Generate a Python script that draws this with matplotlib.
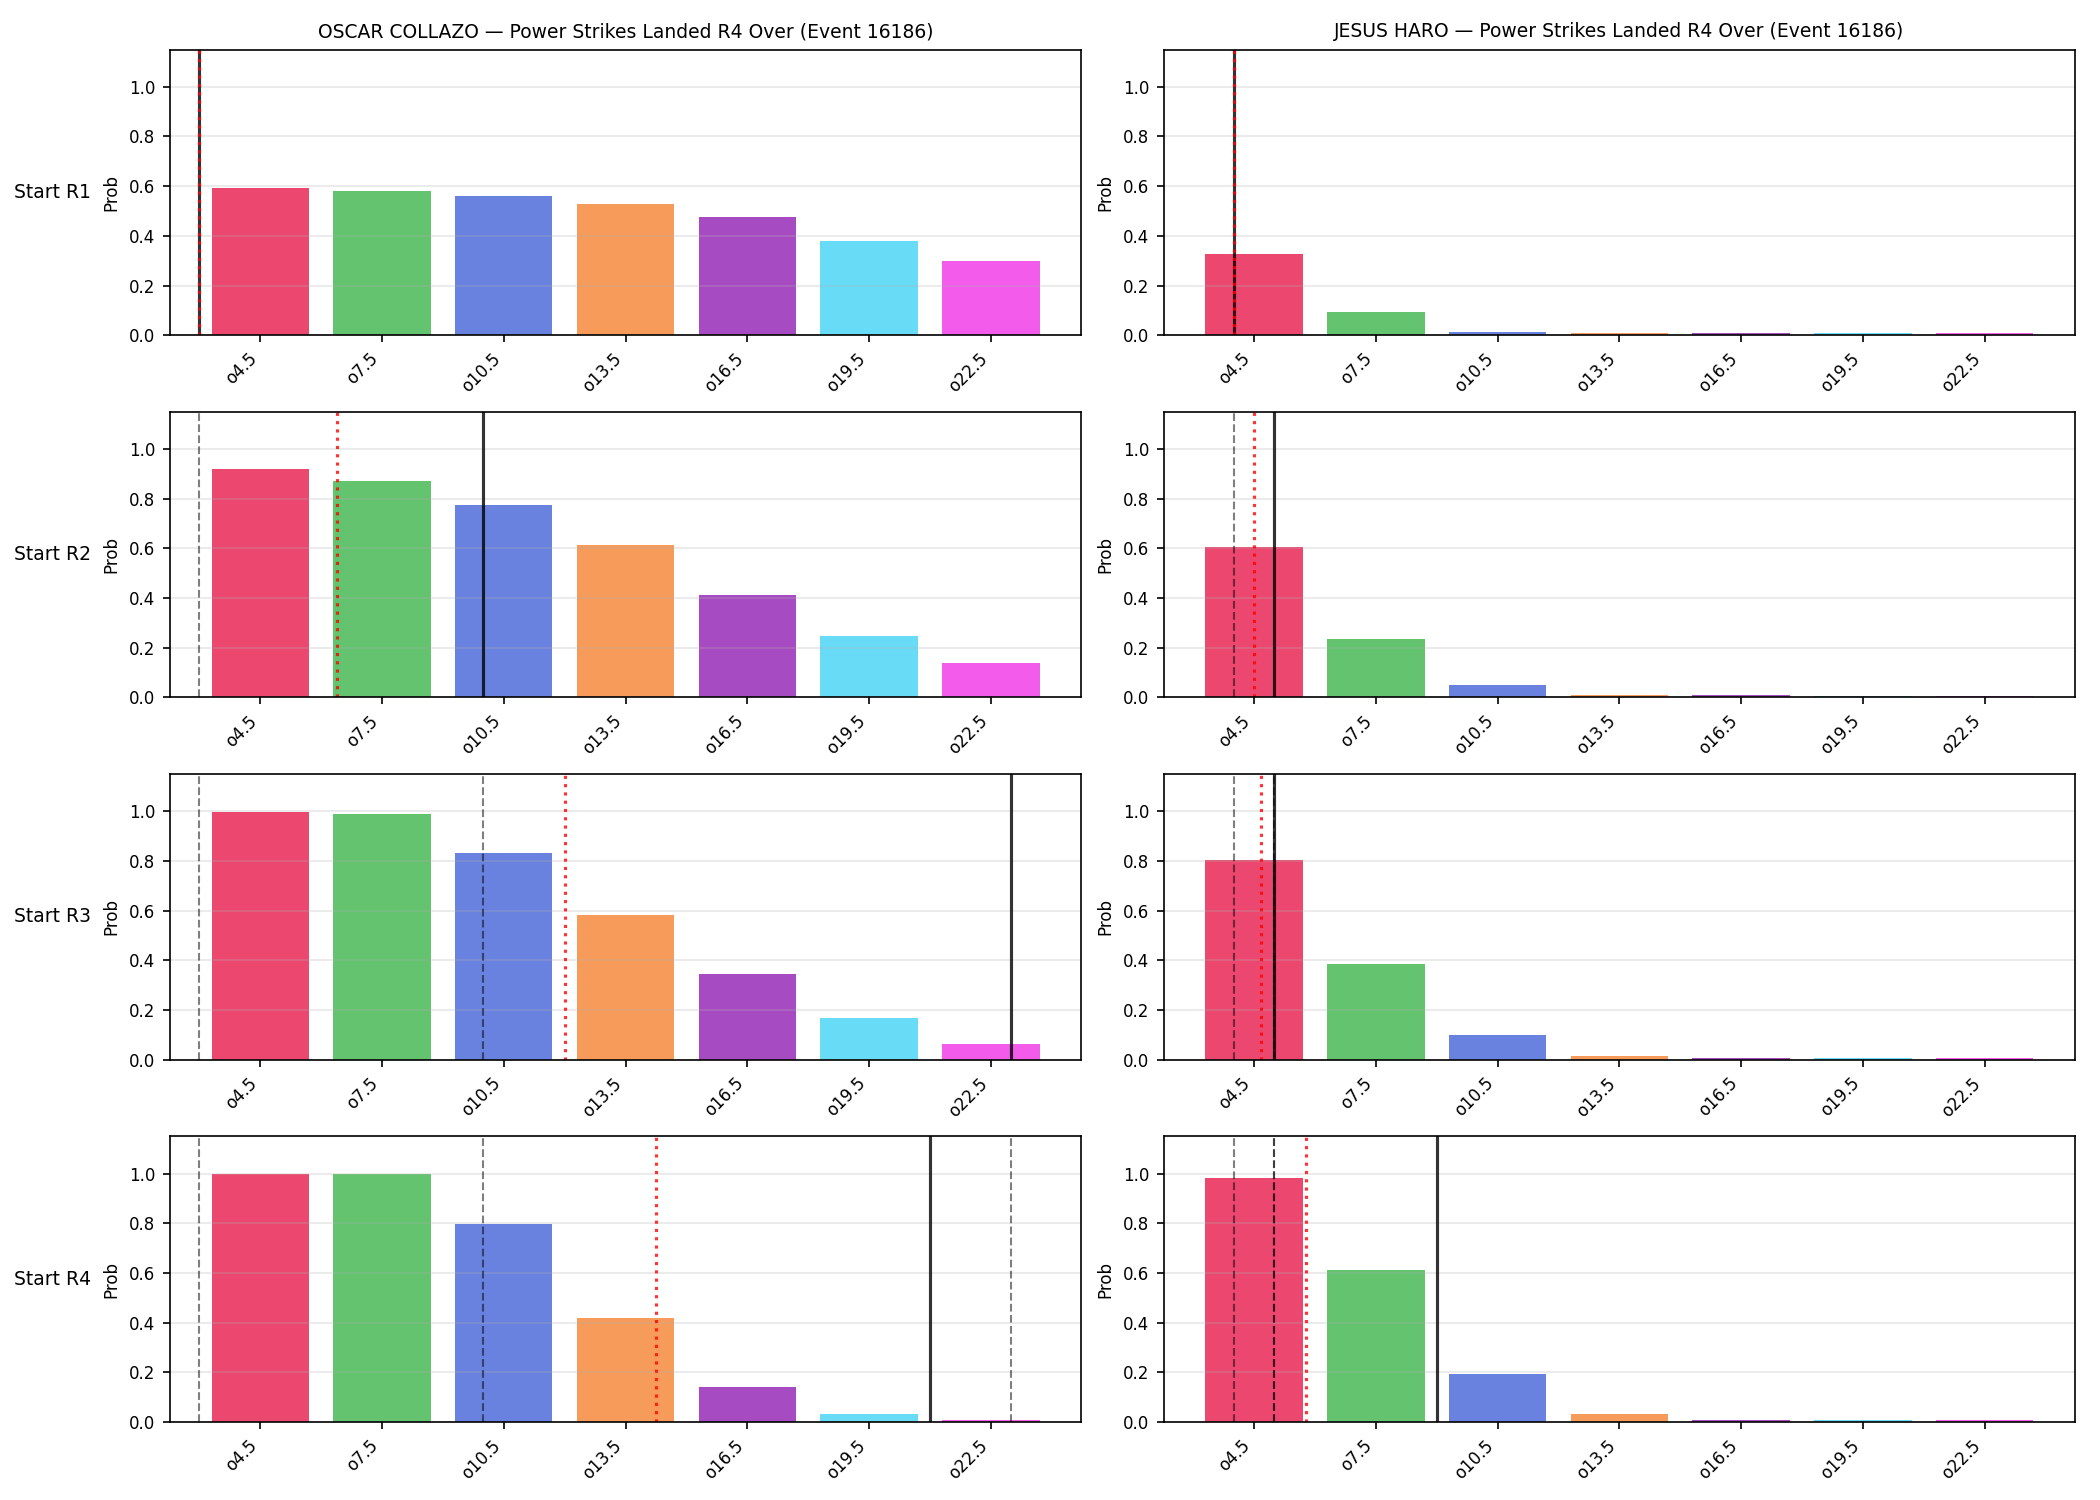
import matplotlib
matplotlib.use("Agg")
import matplotlib.pyplot as plt
import numpy as np

fighters = ["OSCAR COLLAZO", "JESUS HARO"]
market = "Power Strikes Landed R4 Over (Event 16186)"
rounds = ["Start R1", "Start R2", "Start R3", "Start R4"]
thresholds = [4.5, 7.5, 10.5, 13.5, 16.5, 19.5, 22.5]
labels = ["o4.5", "o7.5", "o10.5", "o13.5", "o16.5", "o19.5", "o22.5"]
colors = ["#e6194b", "#3cb44b", "#4363d8", "#f58231", "#911eb4", "#42d4f4", "#f032e6"]

# probability of going over each line, one row per starting round
collazo_probs = [
    [0.593, 0.581, 0.562, 0.530, 0.474, 0.381, 0.297],
    [0.920, 0.872, 0.775, 0.613, 0.414, 0.248, 0.139],
    [0.997, 0.989, 0.832, 0.583, 0.344, 0.168, 0.063],
    [0.997, 0.997, 0.795, 0.419, 0.140, 0.031, 0.008],
]
haro_probs = [
    [0.325, 0.093, 0.012, 0.008, 0.008, 0.007, 0.007],
    [0.604, 0.237, 0.052, 0.008, 0.008, 0.007, 0.007],
    [0.804, 0.385, 0.099, 0.016, 0.008, 0.007, 0.007],
    [0.984, 0.612, 0.192, 0.031, 0.009, 0.007, 0.008],
]

# strike counts: actual so far (black) and projection (red)
collazo_actual = [3, 10, 23, 21]
collazo_proj = [3, 6.4, 12, 14.25]
haro_actual = [4, 5, 5, 9]
haro_proj = [4, 4.5, 4.68, 5.77]

all_probs = [collazo_probs, haro_probs]
all_actual = [collazo_actual, haro_actual]
all_proj = [collazo_proj, haro_proj]


def to_x(s):
    # map a strike count onto the bar index axis
    return (s - thresholds[0]) / (thresholds[1] - thresholds[0])


fig, axes = plt.subplots(4, 2, figsize=(14, 10), dpi=150)
x = np.arange(len(labels))

for col in range(2):
    for row in range(4):
        ax = axes[row, col]
        ax.bar(x, all_probs[col][row], color=colors, alpha=0.8)
        for prev in all_actual[col][:row]:
            ax.axvline(to_x(prev), color="black", linestyle="--", linewidth=1, alpha=0.5)
        ax.axvline(to_x(all_actual[col][row]), color="black", linewidth=1.5, alpha=0.8)
        ax.axvline(to_x(all_proj[col][row]), color="red", linestyle=":", linewidth=1.5, alpha=0.8)
        ax.set_xticks(x)
        ax.set_xticklabels(labels, rotation=45, ha="right", fontsize=8)
        ax.tick_params(axis="y", labelsize=8)
        ax.set_ylim(0, 1.15)
        ax.set_ylabel("Prob", fontsize=8)
        ax.grid(axis="y", alpha=0.3)
        if row == 0:
            ax.set_title(fighters[col] + " \u2014 " + market, fontsize=9)
        if col == 0:
            ax.text(-0.087, 0.5, rounds[row], transform=ax.transAxes,
                    ha="right", va="center", fontsize=9)

plt.subplots_adjust(left=0.081, right=0.988, top=0.967, bottom=0.052,
                    wspace=0.091, hspace=0.268)
plt.savefig("out.png")
